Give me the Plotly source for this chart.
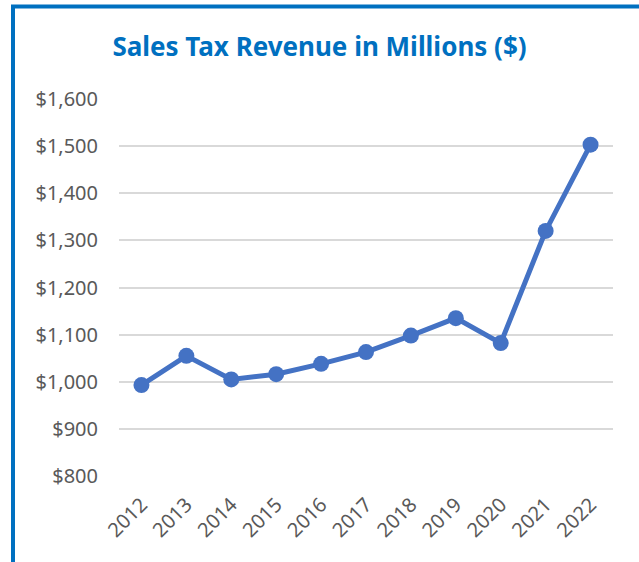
import plotly.graph_objects as go

years = ["2012", "2013", "2014", "2015", "2016", "2017", "2018", "2019", "2020", "2021", "2022"]
revenue = [993, 1055, 1005, 1016, 1038, 1063, 1098, 1135, 1082, 1320, 1503]

fig = go.Figure()
fig.add_trace(go.Scatter(
    x=years, y=revenue, mode="lines+markers",
    line=dict(color="#4472C4", width=5),
    marker=dict(color="#4472C4", size=16),
    showlegend=False,
))

L, R, T, B = 119, 26, 99, 86
W, H = 639, 562
pw = W - L - R
ph = H - T - B

fig.update_layout(
    width=W, height=H,
    margin=dict(l=L, r=R, t=T, b=B),
    paper_bgcolor="white", plot_bgcolor="white",
    title=dict(text="<b>Sales Tax Revenue in Millions ($)</b>",
               x=0.5, xanchor="center", y=1 - 47 / H, yanchor="middle",
               font=dict(family="Noto Sans", size=26, color="#0070C0")),
    font=dict(family="Noto Sans", size=20, color="#595959"),
    xaxis=dict(type="category", range=[-0.5, 10.5], tickangle=-45,
               showgrid=False, showline=False, ticks="", zeroline=False,
               ticklabelstandoff=12),
    yaxis=dict(range=[800, 1600], dtick=100, tickprefix="$", tickformat=",",
               showgrid=True, gridcolor="#D9D9D9", gridwidth=2,
               zeroline=False, showline=False, ticks="", ticklabelstandoff=20),
    shapes=[dict(type="rect", xref="paper", yref="paper",
                 x0=(13 - L) / pw, x1=1.3, y0=-0.5, y1=(H - B - 6.5) / ph,
                 line=dict(color="#0070C0", width=4), fillcolor="rgba(0,0,0,0)")],
)

fig.write_html("out.html", config={"displayModeBar": False},
               post_script="document.body.style.margin='0';document.body.style.padding='0';")
